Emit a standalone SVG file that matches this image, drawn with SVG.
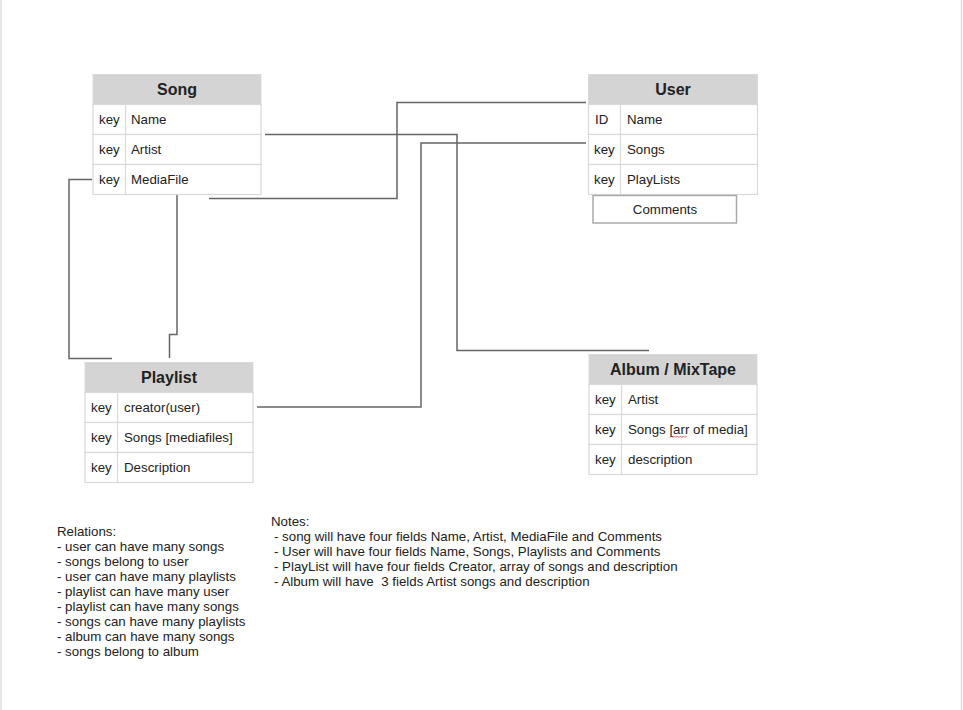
<svg xmlns="http://www.w3.org/2000/svg" width="963" height="710" viewBox="0 0 963 710">
<style>
text{font-family:"Liberation Sans",Arial,sans-serif;fill:#222}
.hd{font-size:16px;font-weight:bold;text-anchor:middle}
.cell{font-size:13.3px}
.note{font-size:13.3px;white-space:pre}
.hfill{fill:#d4d4d4;stroke:#d9d9d9;stroke-width:1}
.row{fill:#fff;stroke:#d9d9d9;stroke-width:1.2}
.div{stroke:#d9d9d9;stroke-width:1.2}
.conn{fill:none;stroke:#666;stroke-width:1.5}
</style>
<rect x="0" y="0" width="963" height="710" fill="#fff"/>
<line x1="1" y1="0" x2="1" y2="710" stroke="#dedede" stroke-width="1.5"/>
<line x1="961.5" y1="0" x2="961.5" y2="710" stroke="#dedede" stroke-width="1.5"/>

<g id="connectors">
<path class="conn" d="M265,134.5 H457 V350.5 H649"/>
<path class="conn" d="M209,198.5 H397 V102.5 H586"/>
<path class="conn" d="M257,407 H421 V143 H586"/>
<path class="conn" d="M92,179.5 H69 V358.5 H112"/>
<path class="conn" d="M177,195 V334.5 H169.5 V358"/>
</g>

<g id="song">
<rect class="hfill" x="93" y="74.5" width="168" height="30"/>
<rect class="row" x="93" y="104.5" width="168" height="30"/>
<rect class="row" x="93" y="134.5" width="168" height="30"/>
<rect class="row" x="93" y="164.5" width="168" height="30"/>
<line class="div" x1="125.5" y1="104.5" x2="125.5" y2="194.5"/>
<text class="hd" x="177" y="95">Song</text>
<text class="cell" x="99" y="124">key</text><text class="cell" x="131" y="124">Name</text>
<text class="cell" x="99" y="154">key</text><text class="cell" x="131" y="154">Artist</text>
<text class="cell" x="99" y="184">key</text><text class="cell" x="131" y="184">MediaFile</text>
</g>

<g id="user">
<rect class="hfill" x="588.5" y="74.5" width="169" height="30"/>
<rect class="row" x="588.5" y="104.5" width="169" height="30"/>
<rect class="row" x="588.5" y="134.5" width="169" height="30"/>
<rect class="row" x="588.5" y="164.5" width="169" height="30"/>
<line class="div" x1="620.5" y1="104.5" x2="620.5" y2="194.5"/>
<text class="hd" x="673" y="95">User</text>
<text class="cell" x="595" y="124">ID</text><text class="cell" x="627" y="124">Name</text>
<text class="cell" x="594" y="154">key</text><text class="cell" x="627" y="154">Songs</text>
<text class="cell" x="594" y="184">key</text><text class="cell" x="627" y="184">PlayLists</text>
</g>

<g id="comments">
<rect x="593" y="195.5" width="143.5" height="27.5" fill="#fff" stroke="#aaa" stroke-width="1.5"/>
<text class="cell" x="665" y="214" text-anchor="middle">Comments</text>
</g>

<g id="playlist">
<rect class="hfill" x="85" y="362.5" width="168" height="30"/>
<rect class="row" x="85" y="392.5" width="168" height="30"/>
<rect class="row" x="85" y="422.5" width="168" height="30"/>
<rect class="row" x="85" y="452.5" width="168" height="30"/>
<line class="div" x1="117.5" y1="392.5" x2="117.5" y2="482.5"/>
<text class="hd" x="169" y="383">Playlist</text>
<text class="cell" x="91" y="412">key</text><text class="cell" x="124" y="412">creator(user)</text>
<text class="cell" x="91" y="442">key</text><text class="cell" x="124" y="442">Songs [mediafiles]</text>
<text class="cell" x="91" y="472">key</text><text class="cell" x="124" y="472">Description</text>
</g>

<g id="album">
<rect class="hfill" x="589" y="354.5" width="168" height="30"/>
<rect class="row" x="589" y="384.5" width="168" height="30"/>
<rect class="row" x="589" y="414.5" width="168" height="30"/>
<rect class="row" x="589" y="444.5" width="168" height="30"/>
<line class="div" x1="621.5" y1="384.5" x2="621.5" y2="474.5"/>
<text class="hd" x="673" y="375">Album / MixTape</text>
<text class="cell" x="595" y="404">key</text><text class="cell" x="628" y="404">Artist</text>
<text class="cell" x="595" y="434">key</text><text class="cell" x="628" y="434">Songs [arr of media]</text>
<text class="cell" x="595" y="464">key</text><text class="cell" x="628" y="464">description</text>
<path d="M670,437.5 l1.5,-1.5 l1.5,1.5 l1.5,-1.5 l1.5,1.5 l1.5,-1.5 l1.5,1.5 l1.5,-1.5 l1.5,1.5 l1.5,-1.5 l1.5,1.5 l1.5,-1.5" fill="none" stroke="#d33" stroke-width="0.8"/>
</g>

<g id="relations">
<text class="note" x="57" y="536">Relations:</text>
<text class="note" x="57" y="551">- user can have many songs</text>
<text class="note" x="57" y="566">- songs belong to user</text>
<text class="note" x="57" y="581">- user can have many playlists</text>
<text class="note" x="57" y="596">- playlist can have many user</text>
<text class="note" x="57" y="611">- playlist can have many songs</text>
<text class="note" x="57" y="626">- songs can have many playlists</text>
<text class="note" x="57" y="641">- album can have many songs</text>
<text class="note" x="57" y="656">- songs belong to album</text>
</g>

<g id="notes">
<text class="note" x="271" y="526">Notes:</text>
<text class="note" x="274" y="541">- song will have four fields Name, Artist, MediaFile and Comments</text>
<text class="note" x="274" y="556">- User will have four fields Name, Songs, Playlists and Comments</text>
<text class="note" x="274" y="571">- PlayList will have four fields Creator, array of songs and description</text>
<text class="note" x="274" y="586" xml:space="preserve">- Album will have  3 fields Artist songs and description</text>
</g>
</svg>
